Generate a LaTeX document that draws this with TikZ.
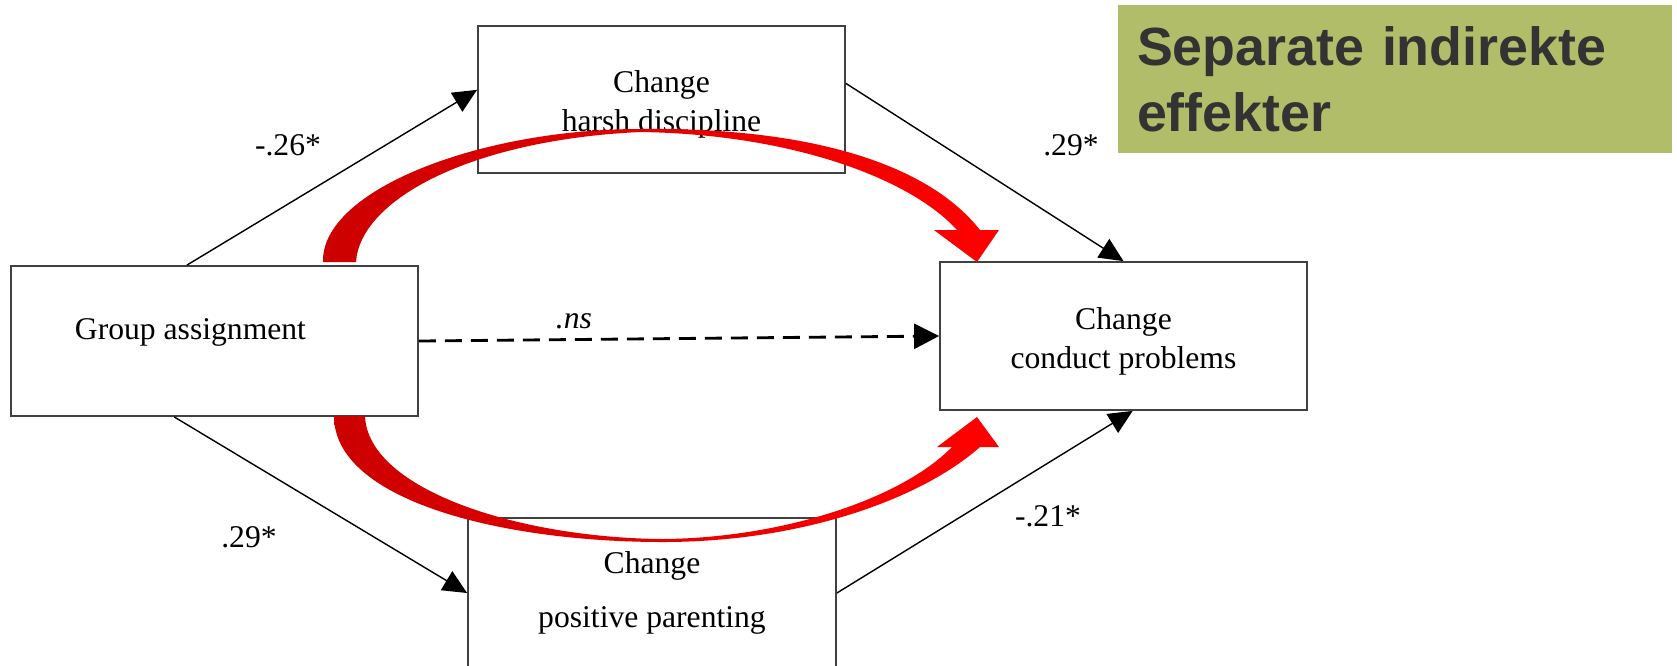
\documentclass[tikz,border=0pt]{standalone}
\usepackage{fontspec}
\setmainfont{Liberation Serif}
\newfontfamily\titlefont{Liberation Sans}
\usepackage{xcolor}
\usetikzlibrary{arrows.meta}

\definecolor{olivebox}{RGB}{178,189,106}
\definecolor{titlegray}{RGB}{51,51,51}
\definecolor{darkred}{RGB}{204,0,0}

\begin{document}
\begin{tikzpicture}[x=0.1mm, y=-0.1mm,
  box/.style={draw=black!75, line width=0.5pt, fill=white, align=center, inner sep=0pt,
    font=\fontsize{9}{11.2}\selectfont},
  link/.style={line width=0.4pt, -{Triangle[length=2.4mm, width=2.2mm]}},
  nslink/.style={line width=0.8pt, dash pattern=on 1.7mm off 0.9mm,
    -{Triangle[length=2.5mm, width=2.5mm]}},
  coef/.style={font=\fontsize{9}{10.8}\selectfont},
  titlebox/.style={fill=olivebox, text=titlegray, inner sep=0pt, text width=51.6mm,
    align=left, minimum width=55.4mm, minimum height=14.8mm,
    font=\titlefont\bfseries\fontsize{15.3}{18.8}\selectfont}]

  \useasboundingbox (0,0) rectangle (1677,665);
  \clip (0,0) rectangle (1677,665);

  % Boxes
  \node[box, minimum width=40.7mm, minimum height=15mm] (grp) at (214.5,341)
    {Group assignment\hspace*{4.8mm}\rule[-7pt]{0pt}{7pt}};
  \node[box, minimum width=36.7mm, minimum height=14.7mm] (hd) at (661.5,99.5)
    {\rule{0pt}{9.2pt}Change\\harsh discipline};
  \node[box, minimum width=36.7mm, minimum height=14.8mm] (cp) at (1123.5,336)
    {\rule{0pt}{9.2pt}Change\\conduct problems};
  \node[box, minimum width=36.8mm, minimum height=15mm] (pp) at (652,593)
    {Change\\[4.4pt]positive parenting};

  % Title
  \node[titlebox] (ttl) at (1395,79) {Separate indirekte\\effekter};

  % Paths
  \draw[link] (grp.110) -- (hd.177);
  \draw[link] (hd.5) -- (cp.north);
  \draw[link] (grp.242) -- (pp.west);
  \draw[link] (pp.east) -- (cp.-83);
  \draw[nslink] (grp.east) -- (cp.west);

  % Coefficients
  \node[coef] (c1) at (288,145) {-.26*};
  \node[coef] (c2) at (1071,145) {.29*};
  \node[coef] (c3) at (249,537) {.29*};
  \node[coef] (c4) at (1048,516) {-.21*};
  \node[coef] (c5) at (574,321) {\textit{.ns}};

  % Indirect effect via harsh discipline
  \shade[left color=darkred, right color=red]
    (323,262) .. controls (321,190) and (480,129) .. (640,129)
    .. controls (800,127) and (925,160) .. (980,230)
    -- (999,230) -- (977,262) -- (934,230) -- (957,230)
    .. controls (910,178) and (790,134) .. (640,132)
    .. controls (470,140) and (360,200) .. (356,262)
    -- cycle;

  % Indirect effect via positive parenting
  \shade[left color=darkred, right color=red]
    (334,416) .. controls (334,500) and (500,542) .. (663,542)
    .. controls (800,542) and (920,500) .. (980,447)
    -- (999,447) -- (977,417) -- (937,447) -- (952,447)
    .. controls (900,500) and (780,538) .. (663,539)
    .. controls (520,538) and (368,490) .. (365,416)
    -- cycle;
\end{tikzpicture}
\end{document}
